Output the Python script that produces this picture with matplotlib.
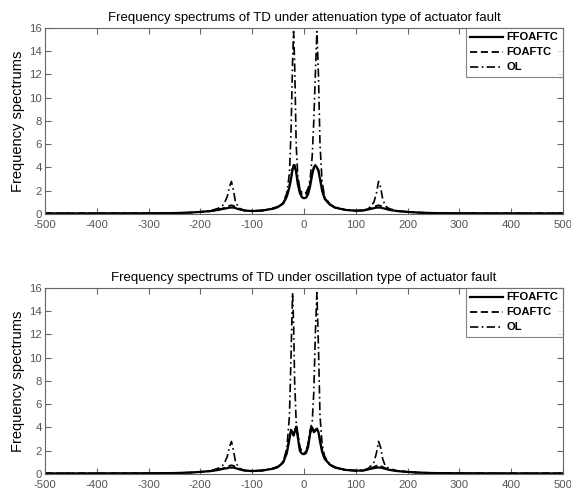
import matplotlib.pyplot as plt

plt.rcParams['font.family'] = ['Liberation Sans', 'DejaVu Sans']
plt.rcParams['axes.unicode_minus'] = False

# frequency grid (Hz)
freq = [-500, -400, -300, -250, -220, -200, -180, -165, -155, -148, -144, -140, -136, -132,
        -125, -115, -100, -80, -60, -50, -40, -33, -28, -25, -22, -20, -18, -15, -12, -8,
        -4, 0, 4, 8, 12, 16, 19, 22, 25, 28, 31, 35, 40, 50, 60, 80, 100, 115, 125, 135,
        140, 144, 148, 152, 157, 165, 180, 200, 220, 250, 300, 400, 500]

# attenuation fault
att_ffoaftc = [0.05, 0.05, 0.06, 0.08, 0.12, 0.18, 0.25, 0.35, 0.45, 0.5, 0.55, 0.55, 0.55, 0.5,
               0.4, 0.3, 0.25, 0.3, 0.45, 0.6, 0.9, 1.5, 2.3, 3.0, 3.8, 4.2, 4.2, 3.6, 2.6, 1.8,
               1.45, 1.35, 1.4, 1.7, 2.4, 3.4, 4.0, 4.2, 4.0, 3.7, 3.0, 2.0, 1.3, 0.8, 0.55, 0.35,
               0.28, 0.3, 0.4, 0.5, 0.55, 0.55, 0.55, 0.5, 0.45, 0.35, 0.25, 0.18, 0.12, 0.08,
               0.06, 0.05, 0.05]
att_foaftc = [0.05, 0.05, 0.06, 0.08, 0.12, 0.18, 0.25, 0.38, 0.5, 0.6, 0.7, 0.75, 0.7, 0.6,
              0.45, 0.3, 0.25, 0.3, 0.45, 0.6, 0.95, 1.6, 2.5, 3.2, 4.0, 4.1, 4.0, 3.7, 2.9, 2.1,
              1.7, 1.6, 1.7, 2.0, 2.7, 3.5, 3.9, 4.1, 4.0, 3.8, 3.2, 2.2, 1.4, 0.8, 0.55, 0.35,
              0.28, 0.3, 0.45, 0.6, 0.7, 0.75, 0.7, 0.6, 0.5, 0.38, 0.25, 0.18, 0.12, 0.08,
              0.06, 0.05, 0.05]
att_ol = [0.05, 0.05, 0.06, 0.08, 0.12, 0.18, 0.28, 0.5, 0.8, 1.5, 2.3, 2.8, 2.0, 1.0,
          0.5, 0.3, 0.28, 0.3, 0.5, 0.65, 1.0, 1.8, 3.5, 7.0, 13.0, 15.7, 13.0, 6.0, 3.3, 2.2,
          1.85, 1.75, 1.85, 2.2, 3.0, 5.0, 8.0, 12.0, 15.7, 12.0, 6.0, 2.8, 1.5, 0.85, 0.6, 0.35,
          0.3, 0.32, 0.5, 1.0, 1.8, 2.8, 2.3, 1.3, 0.7, 0.45, 0.28, 0.18, 0.12, 0.08,
          0.06, 0.05, 0.05]

# oscillation fault
osc_ffoaftc = [0.05, 0.05, 0.06, 0.08, 0.12, 0.18, 0.25, 0.35, 0.45, 0.5, 0.55, 0.55, 0.55, 0.5,
               0.4, 0.3, 0.25, 0.3, 0.45, 0.6, 1.0, 1.8, 3.0, 3.8, 3.6, 3.3, 3.6, 4.0, 3.2, 2.0,
               1.75, 1.7, 1.8, 2.3, 3.5, 4.0, 3.6, 3.7, 3.9, 3.6, 2.8, 1.9, 1.3, 0.8, 0.55, 0.35,
               0.28, 0.3, 0.4, 0.5, 0.55, 0.55, 0.55, 0.5, 0.45, 0.35, 0.25, 0.18, 0.12, 0.08,
               0.06, 0.05, 0.05]
osc_foaftc = [0.05, 0.05, 0.06, 0.08, 0.12, 0.18, 0.25, 0.38, 0.5, 0.6, 0.7, 0.75, 0.7, 0.6,
              0.45, 0.3, 0.25, 0.3, 0.45, 0.6, 1.0, 1.9, 3.2, 3.6, 3.5, 3.4, 3.7, 4.1, 3.4, 2.3,
              1.9, 1.8, 1.9, 2.5, 3.7, 4.1, 3.7, 3.8, 3.9, 3.6, 3.0, 2.1, 1.4, 0.8, 0.55, 0.35,
              0.28, 0.3, 0.45, 0.6, 0.7, 0.75, 0.7, 0.6, 0.5, 0.38, 0.25, 0.18, 0.12, 0.08,
              0.06, 0.05, 0.05]
osc_ol = [0.05, 0.05, 0.06, 0.08, 0.12, 0.18, 0.28, 0.5, 0.8, 1.5, 2.3, 2.8, 2.0, 1.0,
          0.5, 0.3, 0.28, 0.3, 0.5, 0.65, 1.1, 2.2, 5.0, 10.0, 15.6, 13.0, 8.0, 4.5, 3.5, 2.3,
          1.9, 1.8, 1.95, 2.6, 3.8, 4.5, 7.0, 12.0, 15.6, 11.0, 5.0, 2.6, 1.5, 0.85, 0.6, 0.35,
          0.3, 0.32, 0.5, 1.0, 1.8, 2.8, 2.3, 1.3, 0.7, 0.45, 0.28, 0.18, 0.12, 0.08,
          0.06, 0.05, 0.05]

titles = ["Frequency spectrums of TD under attenuation type of actuator fault",
          "Frequency spectrums of TD under oscillation type of actuator fault"]
series = [(att_ffoaftc, att_foaftc, att_ol), (osc_ffoaftc, osc_foaftc, osc_ol)]
labels = ["FFOAFTC", "FOAFTC", "OL"]
xticks = [-500, -400, -300, -200, -100, 0, 100, 200, 300, 400, 500]
yticks = [0, 2, 4, 6, 8, 10, 12, 14, 16]

fig = plt.figure(figsize=(5.71, 4.90), dpi=100)
rects = [[0.0788, 0.5633, 0.907, 0.3796], [0.0788, 0.0327, 0.907, 0.3796]]

for rect, title, (s1, s2, s3) in zip(rects, titles, series):
    ax = fig.add_axes(rect)
    ax.plot(freq, s1, color='black', lw=1.6, ls='-', label=labels[0])
    ax.plot(freq, s2, color='black', lw=1.3, ls=(0, (4, 2)), label=labels[1])
    ax.plot(freq, s3, color='black', lw=1.2, ls=(0, (5, 2, 1, 2)), label=labels[2])
    ax.set_xlim(-500, 500)
    ax.set_ylim(0, 16)
    ax.set_xticks(xticks)
    ax.set_yticks(yticks)
    ax.tick_params(direction='in', top=True, right=True, length=4, width=0.8,
                   colors='#666666', labelcolor='#555555', labelsize=8.2, pad=2)
    ax.tick_params(axis='x', pad=4)
    for sp in ax.spines.values():
        sp.set_color('#666666')
        sp.set_linewidth(0.8)
    ax.set_title(title, fontsize=9.5, pad=5)
    ax.set_ylabel("Frequency spectrums", fontsize=10.5, labelpad=3)
    leg = ax.legend(loc='upper right', fontsize=8, frameon=True, fancybox=False,
                    borderaxespad=0, handlelength=3.0, handletextpad=0.3,
                    labelspacing=0.45, borderpad=0.4)
    leg.get_frame().set_edgecolor('#666666')
    leg.get_frame().set_linewidth(0.8)
    for t in leg.get_texts():
        t.set_fontweight('bold')

fig.savefig('out.png', dpi=100)
